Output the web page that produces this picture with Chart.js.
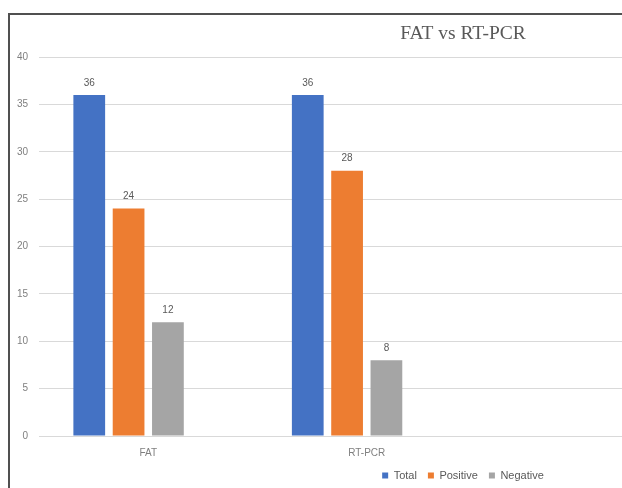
<!DOCTYPE html>
<html>
<head>
<meta charset="utf-8">
<title>FAT vs RT-PCR</title>
<script src="https://cdn.jsdelivr.net/npm/chart.js@4.4.1/dist/chart.umd.min.js"></script>
<style>
  html, body { margin: 0; padding: 0; background: #ffffff; }
  body { width: 622px; height: 488px; overflow: hidden; position: relative; }
  #frame {
    position: absolute; left: 8px; top: 13px;
    width: 960px; height: 520px;
    border-left: 2px solid #505050; border-top: 2px solid #505050;
    background: #ffffff;
  }
  #chart { display: block; }
</style>
</head>
<body>
<div id="frame"><canvas id="chart" width="908" height="476"></canvas></div>
<script>
// Test categories; the axis keeps two further, unused slots on the right.
const categories = ['FAT', 'RT-PCR'];
const unusedSlots = 2;

// Series values per category
const totalCounts = [36, 36];
const positiveCounts = [24, 28];
const negativeCounts = [12, 8];
// fourth, empty series that keeps its slot in each group
const spareCounts = [null, null];

const seriesNames = ['Total', 'Positive', 'Negative'];

// Value axis ticks
const yTicks = [0, 5, 10, 15, 20, 25, 30, 35, 40];

const axisLabels = categories.concat(new Array(unusedSlots).fill(''));

const textFont = 'Liberation Sans, Arial, sans-serif';

// Writes each bar's value just above it
const valueLabels = {
  id: 'valueLabels',
  afterDatasetsDraw(chart) {
    const ctx = chart.ctx;
    ctx.save();
    ctx.font = '10px ' + textFont;
    ctx.fillStyle = '#595959';
    ctx.textAlign = 'center';
    ctx.textBaseline = 'middle';
    chart.data.datasets.forEach((ds, di) => {
      if (!ds.showValues) return;
      const meta = chart.getDatasetMeta(di);
      meta.data.forEach((bar, i) => {
        const v = ds.data[i];
        if (v === null || v === undefined) return;
        ctx.fillText(String(v), bar.x, bar.y - 12);
      });
    });
    ctx.restore();
  }
};

new Chart(document.getElementById('chart'), {
  type: 'bar',
  data: {
    labels: axisLabels,
    datasets: [
      { label: seriesNames[0], data: totalCounts, backgroundColor: '#4472C4', showValues: true },
      { label: seriesNames[1], data: positiveCounts, backgroundColor: '#ED7D31', showValues: true },
      { label: seriesNames[2], data: negativeCounts, backgroundColor: '#A5A5A5', showValues: true },
      { label: '', data: spareCounts, backgroundColor: '#FFC000', showValues: false }
    ]
  },
  options: {
    responsive: false,
    animation: false,
    devicePixelRatio: 1,
    categoryPercentage: 0.72,
    barPercentage: 0.807,
    layout: { padding: { left: 3, right: 5, top: 0, bottom: 0 } },
    plugins: {
      title: {
        display: true,
        text: 'FAT vs RT-PCR',
        color: '#595959',
        font: { family: 'Liberation Serif, Times New Roman, serif', size: 19.5, weight: 'normal' },
        padding: { top: 7, bottom: 11.6 }
      },
      legend: {
        position: 'bottom',
        labels: {
          filter: (item) => item.text !== '',
          boxWidth: 6,
          boxHeight: 6,
          padding: 11,
          color: '#595959',
          font: { family: textFont, size: 11 }
        }
      },
      tooltip: { enabled: false }
    },
    scales: {
      x: {
        afterFit(scale) { scale.height = 23; },
        grid: { display: false, drawTicks: false },
        border: { display: true, color: '#d9d9d9', width: 1 },
        ticks: {
          color: '#7f7f7f',
          padding: 11,
          maxRotation: 0,
          autoSkip: false,
          font: { family: textFont, size: 10 }
        }
      },
      y: {
        min: 0,
        max: 40,
        afterBuildTicks(scale) { scale.ticks = yTicks.map(v => ({ value: v })); },
        afterFit(scale) { scale.width = 26; },
        grid: { color: '#d9d9d9', lineWidth: 1, drawTicks: false },
        border: { display: false },
        ticks: {
          color: '#7f7f7f',
          padding: 11,
          font: { family: textFont, size: 10 }
        }
      }
    }
  },
  plugins: [valueLabels]
});
</script>
</body>
</html>
